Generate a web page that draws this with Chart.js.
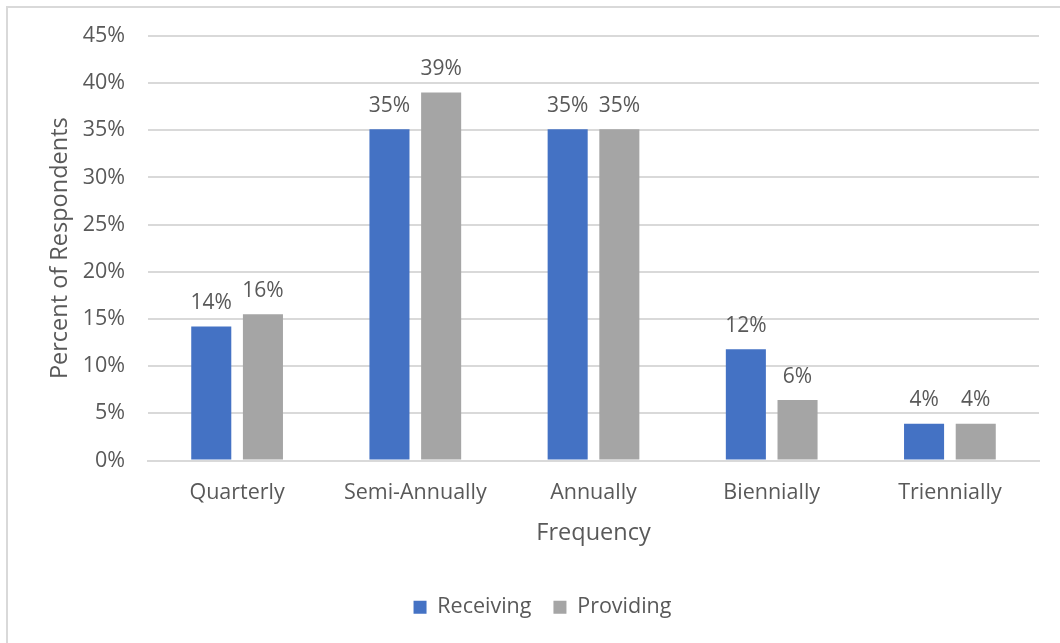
<!DOCTYPE html>
<html>
<head>
<meta charset="utf-8">
<script src="https://cdn.jsdelivr.net/npm/chart.js@4.4.1/dist/chart.umd.min.js"></script>
<style>
  html, body { margin: 0; padding: 0; background: #ffffff; }
  #wrap { position: relative; width: 1060px; height: 643px; }
</style>
</head>
<body>
<div id="wrap"><canvas id="c" width="1060" height="643"></canvas></div>
<script>
const categories = ["Quarterly", "Semi-Annually", "Annually", "Biennially", "Triennially"];
const receiving = [14.2, 35.1, 35.1, 11.8, 3.9];
const providing = [15.5, 39.0, 35.1, 6.4, 3.9];
const seriesNames = ["Receiving", "Providing"];
const yTickMax = 45;
const yTickStep = 5;

const FONT = "'Open Sans', 'Liberation Sans', sans-serif";
const TEXT = "#595959";

const frame = {
  id: "frame",
  beforeDraw(chart) {
    const ctx = chart.ctx;
    ctx.save();
    ctx.fillStyle = "#ffffff";
    ctx.fillRect(0, 0, chart.width, chart.height);
    ctx.strokeStyle = "#d9d9d9";
    ctx.lineWidth = 2;
    ctx.beginPath();
    ctx.moveTo(7, chart.height);
    ctx.lineTo(7, 7);
    ctx.lineTo(chart.width, 7);
    ctx.stroke();
    ctx.restore();
  }
};

const valueLabels = {
  id: "valueLabels",
  afterDatasetsDraw(chart) {
    const ctx = chart.ctx;
    ctx.save();
    ctx.font = "21px " + FONT;
    ctx.fillStyle = TEXT;
    ctx.textAlign = "center";
    ctx.textBaseline = "bottom";
    chart.data.datasets.forEach((ds, i) => {
      const meta = chart.getDatasetMeta(i);
      meta.data.forEach((bar, j) => {
        ctx.fillText(Math.round(ds.data[j]) + "%", bar.x, bar.y - 13);
      });
    });
    ctx.restore();
  }
};

new Chart(document.getElementById("c"), {
  type: "bar",
  data: {
    labels: categories,
    datasets: [
      { label: seriesNames[0], data: receiving, backgroundColor: "#4472C4" },
      { label: seriesNames[1], data: providing, backgroundColor: "#A5A5A5" }
    ]
  },
  options: {
    responsive: false,
    animation: false,
    devicePixelRatio: 1,
    categoryPercentage: 0.58,
    barPercentage: 0.775,
    layout: { padding: { left: 46, right: 21, top: 30, bottom: 15 } },
    plugins: {
      tooltip: { enabled: false },
      legend: {
        position: "bottom",
        labels: {
          font: { family: FONT, size: 21.5 },
          color: TEXT,
          boxWidth: 13,
          boxHeight: 13,
          padding: 22
        }
      }
    },
    scales: {
      x: {
        grid: { display: false, drawTicks: false },
        border: { display: true, color: "#d9d9d9", width: 2 },
        ticks: { font: { family: FONT, size: 21.5 }, color: TEXT, padding: 19 },
        title: { display: true, text: "Frequency", font: { family: FONT, size: 23.5 }, color: TEXT, padding: { top: -5, bottom: 27 } }
      },
      y: {
        min: 0,
        max: yTickMax,
        afterFit(scale) { scale.width = 102; },
        grid: { color: "#d9d9d9", lineWidth: 2, drawTicks: false },
        border: { display: false },
        ticks: {
          stepSize: yTickStep,
          font: { family: FONT, size: 21.5 },
          color: TEXT,
          padding: 23,
          callback: v => v + "%"
        },
        title: { display: true, text: "Percent of Respondents", font: { family: FONT, size: 23.5 }, color: TEXT, padding: { top: 0, bottom: 6 } }
      }
    }
  },
  plugins: [frame, valueLabels]
});
</script>
</body>
</html>
